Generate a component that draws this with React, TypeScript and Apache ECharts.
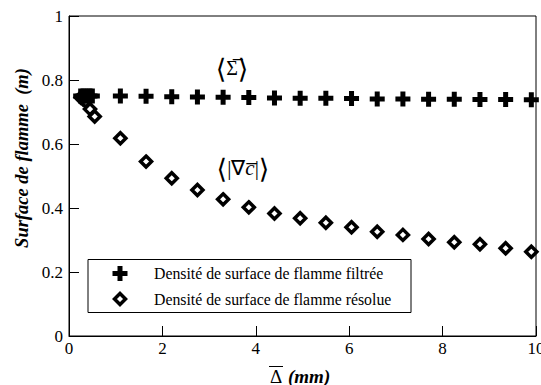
import React, { useEffect, useRef } from "react";
import * as echarts from "echarts";

const filteredX = [0.25, 0.3, 0.35, 0.4, 0.45, 0.5, 1.1, 1.65, 2.2, 2.75, 3.3, 3.85, 4.4, 4.95, 5.5, 6.05, 6.6, 7.15, 7.7, 8.25, 8.8, 9.35, 9.9];
const filteredY = [0.75, 0.75, 0.75, 0.75, 0.75, 0.75, 0.75, 0.749, 0.748, 0.747, 0.746, 0.745, 0.744, 0.743, 0.743, 0.742, 0.741, 0.741, 0.74, 0.74, 0.739, 0.739, 0.738];
const resolvedX = [0.25, 0.3, 0.36, 0.45, 0.55, 1.1, 1.65, 2.2, 2.75, 3.3, 3.85, 4.4, 4.95, 5.5, 6.05, 6.6, 7.15, 7.7, 8.25, 8.8, 9.35, 9.9];
const resolvedY = [0.745, 0.74, 0.733, 0.709, 0.686, 0.618, 0.545, 0.493, 0.456, 0.427, 0.402, 0.383, 0.368, 0.354, 0.34, 0.326, 0.316, 0.303, 0.293, 0.287, 0.274, 0.263];
const legendLabels = ["Densité de surface de flamme filtrée", "Densité de surface de flamme résolue"];
const xTicks = [0, 2, 4, 6, 8, 10];
const yTicks = [0, 0.2, 0.4, 0.6, 0.8, 1];

const SERIF = "Liberation Serif, serif";
const DJ = "DejaVu Serif, serif";
const PLUS = "path://M5,0H10V5H15V10H10V15H5V10H0V5H5Z";

export default function App() {
  const ref = useRef<HTMLDivElement>(null);
  useEffect(() => {
    if (!ref.current) return;
    const chart = echarts.init(ref.current, undefined, { renderer: "svg" });
    const axisCommon = {
      axisLine: { show: true, lineStyle: { color: "#000", width: 1 } },
      axisTick: { show: true, inside: true, length: 10, lineStyle: { color: "#000", width: 1 } },
      splitLine: { show: false },
    };
    chart.setOption({
      animation: false,
      backgroundColor: "#fff",
      grid: {
        left: 69, right: 5, top: 16, bottom: 49,
        outerBoundsMode: "none",
        containLabel: false,
        show: true, borderColor: "#000", borderWidth: 1,
      },
      xAxis: {
        type: "value",
        min: xTicks[0],
        max: xTicks[xTicks.length - 1],
        interval: 2,
        ...axisCommon,
        axisLabel: { color: "#000", fontFamily: SERIF, fontSize: 17, margin: 4 },
      },
      yAxis: {
        type: "value",
        min: yTicks[0],
        max: yTicks[yTicks.length - 1],
        interval: 0.2,
        ...axisCommon,
        axisLabel: { color: "#000", fontFamily: SERIF, fontSize: 17, margin: 6 },
      },
      series: [
        {
          type: "scatter",
          name: legendLabels[1],
          data: resolvedX.map((x, i) => [x, resolvedY[i]]),
          symbol: "diamond",
          symbolSize: 11,
          itemStyle: { color: "#fff", borderColor: "#000", borderWidth: 3.5, opacity: 1 },
          z: 2,
        },
        {
          type: "scatter",
          name: legendLabels[0],
          data: filteredX.map((x, i) => [x, filteredY[i]]),
          symbol: PLUS,
          symbolSize: 15,
          itemStyle: { color: "#000", opacity: 1 },
          z: 3,
        },
      ],
      graphic: [
        {
          type: "text",
          x: 22,
          y: 158,
          rotation: Math.PI / 2,
          style: {
            text: "Surface de flamme  (m)",
            fontFamily: SERIF,
            fontSize: 18.5,
            fontStyle: "italic",
            fontWeight: "bold",
            fill: "#000",
            align: "center",
            verticalAlign: "middle",
          },
        },
        {
          type: "text",
          x: 276,
          y: 376,
          style: {
            text: "Δ",
            fontFamily: SERIF,
            fontSize: 19,
            fill: "#000",
            align: "center",
            verticalAlign: "middle",
          },
        },
        { type: "line", shape: { x1: 269, y1: 366.5, x2: 283, y2: 366.5 }, style: { stroke: "#000", lineWidth: 1 } },
        {
          type: "text",
          x: 288,
          y: 376,
          style: {
            text: "(mm)",
            fontFamily: SERIF,
            fontSize: 19,
            fontStyle: "italic",
            fontWeight: "bold",
            fill: "#000",
            align: "left",
            verticalAlign: "middle",
          },
        },
        {
          type: "text",
          x: 232,
          y: 68,
          style: {
            text: "{b|⟨}{s|Σ\u0305}{b|⟩}",
            align: "center",
            verticalAlign: "middle",
            rich: {
              b: { fontFamily: DJ, fontSize: 27, fill: "#000" },
              s: { fontFamily: SERIF, fontSize: 20, fill: "#000" },
            },
          },
        },
        {
          type: "text",
          x: 243,
          y: 168,
          style: {
            text: "{b|⟨}{s||∇}{i|c\u0305}{s||}{b|⟩}",
            align: "center",
            verticalAlign: "middle",
            rich: {
              b: { fontFamily: DJ, fontSize: 27, fill: "#000" },
              s: { fontFamily: SERIF, fontSize: 21, fill: "#000" },
              i: { fontFamily: SERIF, fontSize: 21, fontStyle: "italic", fill: "#000" },
            },
          },
        },
        {
          type: "group",
          z: 10,
          children: [
            { type: "rect", shape: { x: 88, y: 259.5, width: 323, height: 53 }, style: { fill: "#fff", stroke: "#000", lineWidth: 1 } },
            { type: "rect", shape: { x: 117.5, y: 266, width: 5, height: 15 }, style: { fill: "#000" } },
            { type: "rect", shape: { x: 112.5, y: 271, width: 15, height: 5 }, style: { fill: "#000" } },
            {
              type: "polygon",
              shape: { points: [[120, 293.5], [125.5, 299], [120, 304.5], [114.5, 299]] },
              style: { fill: "#fff", stroke: "#000", lineWidth: 3.5 },
            },
            { type: "text", x: 154, y: 273.5, style: { text: legendLabels[0], fontFamily: SERIF, fontSize: 15.8, fill: "#000", verticalAlign: "middle" } },
            { type: "text", x: 154, y: 299.5, style: { text: legendLabels[1], fontFamily: SERIF, fontSize: 15.8, fill: "#000", verticalAlign: "middle" } },
          ],
        },
      ],
    });
    return () => chart.dispose();
  }, []);
  return <div ref={ref} style={{ position: "absolute", left: 0, top: 0, width: 541, height: 385 }} />;
}
